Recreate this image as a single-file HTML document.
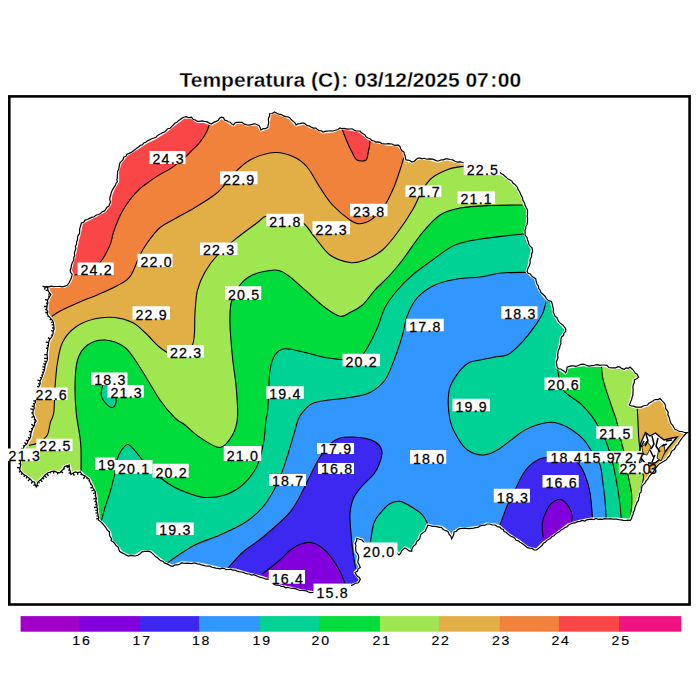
<!DOCTYPE html><html><head><meta charset="utf-8"><style>html,body{margin:0;padding:0;background:#fff;}svg{display:block}text{font-family:"Liberation Sans",sans-serif}</style></head><body>
<svg width="700" height="700" viewBox="0 0 700 700">
<rect width="700" height="700" fill="#fff"/>
<text x="179.5" y="87.2" font-weight="bold" font-size="21" letter-spacing="0" fill="#000" stroke="#fff" stroke-width="0.3" paint-order="fill" xml:space="preserve">Temperatura (C)<tspan dx="1">:</tspan><tspan dx="0.5"> 03/12/2025 07</tspan><tspan dx="1.5">:</tspan><tspan dx="0.5">00</tspan></text>
<defs><clipPath id="st"><path d="M20.4,461.9 L23.6,447.7 L27.5,443.0 L30.7,436.7 L33.0,427.3 L36.2,421.0 L33.0,414.7 L33.0,410.8 L35.4,399.7 L39.3,385.6 L40.9,379.3 L44.0,371.4 L47.2,360.4 L47.2,352.6 L47.7,350.0 L49.0,341.0 L51.6,337.1 L54.1,329.4 L53.5,323.0 L50.3,317.8 L47.1,314.0 L47.1,305.0 L48.4,298.6 L50.9,294.7 L49.0,292.1 L47.7,287.6 L42.6,286.4 L64.4,286.4 L68.9,283.1 L70.8,279.3 L72.1,274.1 L70.2,270.3 L71.5,265.1 L73.8,257.5 L77.5,240.0 L79.7,231.5 L81.4,222.9 L87.4,219.5 L96.0,215.2 L104.6,210.9 L109.7,204.0 L110.6,195.5 L113.2,188.6 L117.5,181.7 L117.5,171.5 L120.0,162.9 L126.9,154.3 L135.5,149.2 L145.8,142.3 L156.0,137.2 L164.6,132.0 L173.2,125.1 L176.9,122.3 L183.7,117.2 L191.4,117.2 L197.4,121.4 L204.3,121.4 L211.2,124.0 L216.3,121.4 L221.5,117.2 L226.6,120.6 L233.5,124.9 L236.9,122.3 L242.0,122.3 L247.2,124.9 L255.8,124.0 L259.2,125.7 L260.9,130.0 L267.8,127.4 L269.5,113.7 L274.6,112.0 L281.5,114.6 L290.0,118.0 L296.0,125.0 L304.0,123.0 L311.0,127.0 L316.0,128.0 L323.0,132.0 L333.0,131.0 L340.0,128.0 L350.0,129.0 L360.0,131.0 L368.0,138.0 L374.0,141.0 L386.0,144.0 L398.0,145.0 L404.0,152.0 L406.0,160.0 L412.0,162.0 L418.0,158.0 L430.0,158.8 L437.5,161.2 L447.5,158.8 L455.0,161.2 L462.5,162.5 L480.0,165.0 L500.0,172.5 L510.0,180.0 L517.5,187.5 L522.5,197.5 L525.0,205.0 L527.5,210.0 L527.5,222.5 L525.0,232.5 L527.5,240.0 L532.5,250.0 L530.0,260.0 L529.3,265.7 L527.1,271.4 L531.4,275.7 L535.7,278.6 L537.1,284.3 L540.0,290.0 L542.9,294.3 L546.4,298.6 L551.4,301.4 L552.9,307.1 L554.3,314.3 L558.6,321.4 L565.7,328.6 L565.7,331.4 L561.4,337.1 L560.0,345.7 L557.9,352.9 L557.1,360.0 L557.1,367.1 L565.7,372.9 L567.1,367.1 L584.3,364.3 L587.1,365.7 L604.3,365.0 L611.4,367.9 L620.0,367.1 L624.3,369.3 L630.0,367.1 L637.1,374.3 L638.6,377.1 L634.3,380.0 L632.9,387.1 L632.1,397.1 L629.3,405.0 L635.7,407.1 L641.4,407.1 L647.5,405.0 L652.9,401.0 L660.0,398.6 L663.9,402.6 L667.0,410.4 L670.2,421.4 L674.9,429.3 L684.3,432.5 L687.5,432.5 L681.4,438.9 L676.3,445.7 L671.1,452.6 L667.7,457.7 L664.3,461.1 L660.9,462.9 L655.0,469.0 L649.7,475.7 L643.5,484.3 L637.1,502.0 L630.3,520.3 L616.6,519.1 L600.6,519.1 L591.4,519.1 L580.0,521.4 L568.6,524.9 L559.4,531.7 L550.3,538.6 L543.4,543.1 L536.6,550.0 L527.4,547.7 L518.3,540.9 L509.1,535.1 L500.0,527.1 L495.0,525.0 L487.1,524.0 L478.0,527.4 L468.9,528.6 L459.7,528.6 L454.0,532.0 L451.7,538.9 L448.3,532.0 L441.4,527.4 L432.3,526.3 L427.7,525.1 L425.4,530.9 L420.9,534.3 L418.6,540.0 L414.0,545.7 L411.7,551.4 L404.9,548.0 L399.1,554.9 L395.7,551.4 L375.0,550.0 L365.0,545.0 L362.0,540.0 L356.8,538.3 L355.1,543.4 L356.0,552.0 L358.5,555.4 L357.7,562.2 L360.3,567.4 L355.1,572.5 L360.3,579.4 L358.5,582.8 L351.7,585.4 L330.0,590.0 L312.5,592.5 L300.0,590.5 L290.0,588.0 L275.0,585.0 L270.0,580.0 L257.5,576.2 L247.5,573.8 L235.0,570.0 L220.0,568.8 L210.0,566.2 L197.5,563.8 L181.5,562.9 L172.9,566.3 L164.3,562.9 L157.5,557.8 L150.6,551.8 L142.0,551.8 L135.2,556.0 L128.3,556.0 L121.5,552.6 L116.3,545.8 L111.2,540.6 L109.5,532.0 L106.0,527.8 L102.6,523.5 L98.3,520.0 L97.4,511.5 L96.6,502.9 L95.7,494.3 L92.3,485.7 L88.9,478.9 L83.7,475.4 L80.3,472.0 L75.1,472.0 L70.8,474.5 L69.2,465.0 L64.5,466.6 L59.7,472.9 L51.9,471.3 L45.6,474.5 L39.3,480.8 L36.2,487.0 L34.6,482.3 L28.3,477.6 L23.6,474.5 L19.7,469.7 Z"/></clipPath></defs>
<g clip-path="url(#st)">
<rect x="0" y="0" width="700" height="700" fill="rgb(50,150,255)"/>
<path d="M227.5,568.8 C230.0,566.0 236.7,557.7 242.5,552.5 C248.3,547.3 255.0,543.8 262.5,537.5 C270.0,531.2 281.6,521.2 287.5,515.0 C293.4,508.8 294.6,505.8 298.0,500.0 C301.4,494.2 305.0,486.0 308.0,480.0 C311.0,474.0 313.7,468.3 316.0,464.0 C318.3,459.7 319.7,457.3 322.0,454.0 C324.3,450.7 327.0,446.7 330.0,444.0 C333.0,441.3 336.3,439.2 340.0,438.0 C343.7,436.8 347.3,436.8 352.0,437.0 C356.7,437.2 363.7,437.8 368.0,439.0 C372.3,440.2 375.7,441.8 378.0,444.0 C380.3,446.2 381.7,449.0 382.0,452.0 C382.3,455.0 381.3,458.3 380.0,462.0 C378.7,465.7 376.2,470.8 374.0,474.0 C371.8,477.2 369.6,478.3 367.0,481.0 C364.4,483.7 360.9,487.0 358.5,490.3 C356.1,493.6 353.9,496.6 352.5,500.6 C351.1,504.6 350.3,509.2 350.0,514.3 C349.7,519.4 350.4,525.7 350.8,531.4 C351.2,537.1 351.8,542.8 352.5,548.5 C353.2,554.2 354.2,561.3 355.1,565.7 C356.0,570.1 357.5,573.5 358.0,575.0 L365.0,610.0 L215.0,610.0 Z" fill="rgb(60,40,240)"/>
<path d="M262.5,573.8 C265.4,571.5 275.4,563.9 280.0,560.0 C284.6,556.1 286.6,552.9 290.0,550.3 C293.4,547.7 296.9,545.6 300.3,544.3 C303.7,543.0 307.2,542.1 310.6,542.5 C314.0,542.9 317.4,544.4 320.8,546.8 C324.2,549.2 328.0,553.1 331.1,557.1 C334.2,561.1 337.4,566.5 339.7,570.8 C342.0,575.1 343.6,579.6 344.8,582.8 C346.0,586.0 346.6,588.8 347.0,590.0 L348.0,610.0 L255.0,610.0 Z" fill="rgb(130,0,220)"/>
<path d="M500.0,525.0 C501.2,521.7 505.0,510.8 507.5,505.0 C510.0,499.2 512.1,495.7 515.0,490.0 C517.9,484.3 521.2,476.0 525.0,471.0 C528.8,466.0 533.3,462.3 537.5,460.0 C541.7,457.7 545.4,457.5 550.0,457.0 C554.6,456.5 560.4,456.1 565.0,457.0 C569.6,457.9 574.2,459.5 577.5,462.5 C580.8,465.5 582.9,470.0 585.0,475.0 C587.1,480.0 588.8,485.4 590.0,492.5 C591.2,499.6 592.1,513.3 592.5,517.5 L595.0,570.0 L495.0,570.0 Z" fill="rgb(60,40,240)"/>
<path d="M543.0,537.0 C542.9,534.6 541.8,526.8 542.3,522.6 C542.8,518.4 544.7,514.9 546.0,512.0 C547.3,509.1 548.5,506.9 550.0,505.0 C551.5,503.1 552.9,501.8 554.9,500.9 C556.9,500.0 559.4,498.8 561.7,499.7 C564.0,500.6 566.9,503.9 568.6,506.6 C570.3,509.3 571.6,512.7 572.0,515.7 C572.4,518.8 571.1,523.4 570.9,524.9 L572.0,560.0 L540.0,560.0 Z" fill="rgb(130,0,220)"/>
<path d="M529.0,272.3 C524.4,272.4 509.6,272.2 501.4,273.0 C493.2,273.8 487.3,276.0 480.0,277.0 C472.7,278.0 465.0,277.7 457.5,279.0 C450.0,280.3 441.7,281.9 435.0,285.0 C428.3,288.1 422.1,292.5 417.5,297.5 C412.9,302.5 410.0,308.8 407.5,315.0 C405.0,321.2 404.6,327.9 402.5,335.0 C400.4,342.1 397.9,350.0 395.0,357.5 C392.1,365.0 389.2,374.2 385.0,380.0 C380.8,385.8 375.8,389.6 370.0,392.5 C364.2,395.4 359.2,395.8 350.0,397.5 C340.8,399.2 322.9,400.0 315.0,402.5 C307.1,405.0 305.3,409.6 302.5,412.5 C299.7,415.4 299.4,416.4 298.0,420.0 C296.6,423.6 295.7,428.3 294.0,434.0 C292.3,439.7 290.0,447.7 288.0,454.0 C286.0,460.3 284.3,466.0 282.0,472.0 C279.7,478.0 277.2,484.1 274.0,490.0 C270.8,495.9 267.3,502.1 262.5,507.5 C257.7,512.9 252.1,517.9 245.0,522.5 C237.9,527.1 228.3,531.2 220.0,535.0 C211.7,538.8 202.5,541.2 195.0,545.0 C187.5,548.8 180.0,554.2 175.0,557.5 C170.0,560.8 166.7,563.8 165.0,565.0 L150.0,600.0 L0.0,600.0 L0.0,0.0 L545.0,0.0 L545.0,262.0 Z" fill="rgb(0,210,150)"/>
<path d="M546.0,302.0 C545.5,303.8 544.4,309.4 542.9,312.9 C541.4,316.4 539.5,319.3 537.1,322.9 C534.7,326.5 531.2,331.0 528.6,334.3 C526.0,337.6 524.7,339.6 521.4,342.9 C518.1,346.2 513.1,351.9 508.6,354.3 C504.1,356.7 499.1,356.2 494.3,357.1 C489.5,358.1 484.5,358.9 480.0,360.0 C475.5,361.1 471.7,360.6 467.5,363.5 C463.3,366.4 458.1,372.7 455.0,377.5 C451.9,382.3 449.6,385.4 448.8,392.5 C447.9,399.6 448.5,412.5 450.0,420.0 C451.5,427.5 454.6,432.5 457.5,437.5 C460.4,442.5 463.3,447.1 467.5,450.0 C471.7,452.9 477.5,455.0 482.5,455.0 C487.5,455.0 490.4,454.2 497.5,450.0 C504.6,445.8 516.7,434.6 525.0,430.0 C533.3,425.4 541.7,423.5 547.5,422.5 C553.3,421.5 555.9,422.8 560.0,424.0 C564.1,425.2 568.0,427.3 572.0,430.0 C576.0,432.7 580.7,436.3 584.0,440.0 C587.3,443.7 589.3,447.8 592.0,452.0 C594.7,456.2 598.2,460.3 600.0,465.0 C601.8,469.7 601.7,474.2 602.5,480.0 C603.3,485.8 604.4,493.5 605.0,500.0 C605.6,506.5 606.0,515.6 606.2,518.8 L610.0,560.0 L700.0,560.0 L700.0,290.0 L550.0,290.0 Z" fill="rgb(0,210,150)"/>
<path d="M370.5,541.7 C371.1,538.6 372.3,527.6 374.0,522.8 C375.7,517.9 378.2,515.7 380.8,512.6 C383.4,509.5 386.2,505.9 389.4,504.0 C392.6,502.1 396.1,500.8 400.0,501.4 C403.9,502.0 408.8,505.2 412.5,507.5 C416.2,509.8 420.0,512.3 422.5,515.0 C425.0,517.7 426.7,522.3 427.5,523.8 L432.0,560.0 L368.0,560.0 Z" fill="rgb(0,210,150)"/>
<path d="M525.0,233.8 C517.9,234.6 494.2,236.9 482.5,238.8 C470.8,240.6 463.3,241.5 455.0,245.0 C446.7,248.5 439.6,255.0 432.5,260.0 C425.4,265.0 418.3,270.0 412.5,275.0 C406.7,280.0 402.1,284.6 397.5,290.0 C392.9,295.4 388.3,301.2 385.0,307.5 C381.7,313.8 380.4,320.8 377.5,327.5 C374.6,334.2 370.4,342.5 367.5,347.5 C364.6,352.5 362.9,355.4 360.0,357.5 C357.1,359.6 355.8,360.0 350.0,360.0 C344.2,360.0 332.5,358.8 325.0,357.5 C317.5,356.2 311.7,354.0 305.0,352.5 C298.3,351.0 290.0,348.3 285.0,348.8 C280.0,349.2 277.5,351.5 275.0,355.0 C272.5,358.5 271.0,364.2 270.0,370.0 C269.0,375.8 269.2,382.9 268.8,390.0 C268.3,397.1 268.0,407.5 267.5,412.5 C267.0,417.5 266.6,415.4 266.0,420.0 C265.4,424.6 265.0,433.7 264.0,440.0 C263.0,446.3 261.5,453.0 260.0,458.0 C258.5,463.0 257.9,465.5 255.0,470.0 C252.1,474.5 247.5,480.8 242.5,485.0 C237.5,489.2 231.2,492.9 225.0,495.0 C218.8,497.1 210.8,497.7 205.0,497.5 C199.2,497.3 195.0,495.4 190.0,493.8 C185.0,492.1 180.0,490.2 175.0,487.5 C170.0,484.8 164.2,480.8 160.0,477.5 C155.8,474.2 152.9,470.9 150.0,468.0 C147.1,465.1 144.8,462.7 142.5,460.0 C140.2,457.3 138.4,454.6 136.0,452.0 C133.6,449.4 130.5,444.7 128.0,444.5 C125.5,444.3 122.8,448.4 121.0,451.0 C119.2,453.6 118.0,456.4 117.0,460.0 C116.0,463.6 116.2,467.1 115.0,472.5 C113.8,477.9 111.7,486.7 110.0,492.5 C108.3,498.3 106.5,502.7 105.0,507.5 C103.5,512.3 101.9,519.0 101.2,521.2 L90.0,540.0 L0.0,540.0 L0.0,0.0 L545.0,0.0 L545.0,230.0 Z" fill="rgb(0,220,60)"/>
<path d="M103.8,383.8 C105.4,382.3 109.2,383.5 111.2,386.2 C113.3,389.0 116.0,396.5 116.2,400.0 C116.5,403.5 114.4,407.1 112.5,407.5 C110.6,407.9 106.9,404.6 105.0,402.5 C103.1,400.4 101.5,398.1 101.2,395.0 C101.0,391.9 102.1,385.2 103.8,383.8 Z" fill="rgb(0,210,150)"/>
<path d="M557.1,367.1 C557.6,369.6 558.9,378.0 560.0,382.0 C561.1,386.0 562.1,388.5 564.0,391.0 C565.9,393.5 568.5,394.9 571.4,397.1 C574.3,399.3 578.1,401.2 581.4,404.3 C584.7,407.4 588.3,411.6 591.4,415.7 C594.5,419.8 597.5,424.9 599.8,428.8 C602.1,432.7 603.5,435.7 605.0,439.1 C606.5,442.5 607.5,445.2 608.8,449.4 C610.1,453.5 611.5,457.6 613.0,464.0 C614.5,470.4 616.3,480.7 617.5,487.5 C618.7,494.3 619.4,499.8 620.0,505.0 C620.6,510.2 621.0,516.5 621.2,518.8 L625.0,560.0 L700.0,560.0 L700.0,360.0 L557.0,360.0 Z" fill="rgb(0,220,60)"/>
<path d="M522.5,205.0 C517.1,205.1 500.4,205.0 490.0,205.5 C479.6,206.0 468.3,206.4 460.0,208.0 C451.7,209.6 446.2,210.9 440.0,215.0 C433.8,219.1 428.8,225.0 422.5,232.5 C416.2,240.0 407.9,252.9 402.5,260.0 C397.1,267.1 394.6,270.0 390.0,275.0 C385.4,280.0 379.6,285.0 375.0,290.0 C370.4,295.0 366.7,301.2 362.5,305.0 C358.3,308.8 353.8,310.6 350.0,312.5 C346.2,314.4 344.2,317.1 340.0,316.2 C335.8,315.4 330.8,311.9 325.0,307.5 C319.2,303.1 311.2,295.4 305.0,290.0 C298.8,284.6 292.5,278.3 287.5,275.0 C282.5,271.7 280.8,270.0 275.0,270.0 C269.2,270.0 258.3,272.5 252.5,275.0 C246.7,277.5 243.5,280.4 240.0,285.0 C236.5,289.6 232.9,295.8 231.2,302.5 C229.6,309.2 229.8,315.8 230.0,325.0 C230.2,334.2 231.5,347.1 232.5,357.5 C233.5,367.9 235.4,377.5 236.2,387.5 C237.1,397.5 238.1,409.6 237.5,417.5 C236.9,425.4 235.4,430.0 232.5,435.0 C229.6,440.0 225.4,447.1 220.0,447.5 C214.6,447.9 205.8,441.2 200.0,437.5 C194.2,433.8 189.2,428.2 185.0,425.0 C180.8,421.8 179.2,422.2 175.0,418.0 C170.8,413.8 165.8,408.4 160.0,400.0 C154.2,391.6 145.8,376.2 140.0,367.5 C134.2,358.8 130.8,352.1 125.0,347.5 C119.2,342.9 111.2,340.4 105.0,340.0 C98.8,339.6 92.1,341.7 87.5,345.0 C82.9,348.3 79.6,353.3 77.5,360.0 C75.4,366.7 75.2,376.2 75.0,385.0 C74.8,393.8 75.4,403.8 76.2,412.5 C77.1,421.2 79.2,431.4 80.0,437.5 C80.8,443.6 80.8,443.7 81.0,449.3 C81.2,454.9 81.0,467.6 81.0,471.3 L80.0,490.0 L0.0,490.0 L0.0,0.0 L545.0,0.0 L545.0,200.0 Z" fill="rgb(160,230,80)"/>
<path d="M601.4,365.0 C601.6,367.3 601.9,374.0 602.9,378.6 C603.9,383.2 605.4,387.7 607.1,392.9 C608.8,398.1 611.3,405.2 612.9,410.0 C614.5,414.8 615.3,416.1 616.7,421.4 C618.1,426.7 619.8,435.3 621.4,441.9 C623.0,448.5 625.1,455.4 626.2,460.8 C627.3,466.2 627.1,469.2 628.0,474.6 C628.9,480.0 630.9,487.5 631.5,492.9 C632.1,498.3 631.7,502.4 631.5,507.0 C631.3,511.6 630.7,518.2 630.5,520.5 L635.0,540.0 L700.0,540.0 L700.0,360.0 L600.0,360.0 Z" fill="rgb(160,230,80)"/>
<path d="M463.8,166.2 C461.5,166.7 455.2,166.9 450.0,168.8 C444.8,170.6 437.1,174.0 432.5,177.5 C427.9,181.0 425.8,184.6 422.5,190.0 C419.2,195.4 416.7,202.9 412.5,210.0 C408.3,217.1 402.5,225.8 397.5,232.5 C392.5,239.2 387.9,245.4 382.5,250.0 C377.1,254.6 370.4,257.9 365.0,260.0 C359.6,262.1 355.8,263.3 350.0,262.5 C344.2,261.7 335.8,259.2 330.0,255.0 C324.2,250.8 319.6,242.9 315.0,237.5 C310.4,232.1 307.5,225.9 302.5,222.5 C297.5,219.1 291.0,218.0 285.0,217.0 C279.0,216.0 270.8,215.3 266.2,216.2 C261.7,217.2 262.3,219.0 257.5,222.5 C252.7,226.0 244.2,232.1 237.5,237.5 C230.8,242.9 222.9,249.2 217.5,255.0 C212.1,260.8 208.3,266.2 205.0,272.0 C201.7,277.8 199.2,283.2 197.5,290.0 C195.8,296.8 195.8,303.3 195.0,312.5 C194.2,321.7 195.8,337.9 192.5,345.0 C189.2,352.1 180.4,354.6 175.0,355.0 C169.6,355.4 165.0,351.2 160.0,347.5 C155.0,343.8 149.6,336.7 145.0,332.5 C140.4,328.3 137.5,325.0 132.5,322.5 C127.5,320.0 121.2,318.1 115.0,317.5 C108.8,316.9 101.7,317.1 95.0,318.8 C88.3,320.4 80.4,323.5 75.0,327.5 C69.6,331.5 65.4,336.7 62.5,342.5 C59.6,348.3 58.8,355.0 57.5,362.5 C56.2,370.0 55.6,379.2 55.0,387.5 C54.4,395.8 54.5,406.6 53.8,412.5 C53.0,418.4 51.4,418.8 50.3,422.6 C49.2,426.4 49.3,431.8 47.2,435.2 C45.1,438.6 40.7,441.3 37.7,443.0 C34.7,444.7 30.5,445.0 29.1,445.4 L20.0,450.0 L0.0,450.0 L0.0,0.0 L475.0,0.0 L475.0,150.0 Z" fill="rgb(225,175,70)"/>
<path d="M637.2,407.3 C637.3,409.6 637.8,416.4 638.0,421.4 C638.2,426.4 638.3,431.9 638.7,437.2 C639.1,442.4 639.8,447.7 640.3,452.9 C640.8,458.1 641.4,464.4 641.9,468.6 C642.4,472.8 643.8,474.4 643.5,478.0 C643.2,481.6 640.8,488.0 640.3,490.0 L650.0,500.0 L700.0,500.0 L700.0,400.0 L637.0,400.0 Z" fill="rgb(225,175,70)"/>
<path d="M403.8,157.5 C403.1,159.6 401.7,165.0 400.0,170.0 C398.3,175.0 396.2,181.7 393.8,187.5 C391.2,193.3 388.5,199.8 385.0,205.0 C381.5,210.2 376.7,215.6 372.5,218.8 C368.3,221.9 363.8,223.5 360.0,223.8 C356.2,224.0 354.6,223.1 350.0,220.0 C345.4,216.9 337.5,210.4 332.5,205.0 C327.5,199.6 324.2,193.8 320.0,187.5 C315.8,181.2 311.7,172.5 307.5,167.5 C303.3,162.5 300.4,160.0 295.0,157.5 C289.6,155.0 282.5,152.1 275.0,152.5 C267.5,152.9 257.1,156.2 250.0,160.0 C242.9,163.8 237.9,169.6 232.5,175.0 C227.1,180.4 223.8,187.1 217.5,192.5 C211.2,197.9 202.1,203.1 195.0,207.5 C187.9,211.9 180.8,215.4 175.0,218.8 C169.2,222.1 164.6,223.5 160.0,227.5 C155.4,231.5 150.8,237.9 147.5,242.5 C144.2,247.1 142.9,249.3 140.0,255.0 C137.1,260.7 133.8,271.6 130.0,276.7 C126.2,281.8 122.5,282.7 117.1,285.7 C111.7,288.7 104.2,291.9 97.8,294.7 C91.4,297.5 85.0,299.6 78.6,302.4 C72.2,305.2 63.8,309.0 59.3,311.4 C54.8,313.8 52.9,315.7 51.6,316.6 L30.0,318.0 L0.0,315.0 L0.0,0.0 L410.0,0.0 L410.0,140.0 Z" fill="rgb(240,130,60)"/>
<path d="M209.7,123.4 C209.1,124.9 208.0,129.3 206.3,132.6 C204.6,135.8 201.9,139.8 199.4,142.9 C196.9,146.0 193.7,148.6 191.4,150.9 C189.1,153.2 188.0,154.5 185.7,156.6 C183.4,158.7 180.4,161.3 177.7,163.4 C175.0,165.5 172.8,167.2 169.7,169.1 C166.6,171.0 162.8,172.8 159.4,174.9 C156.0,177.0 152.3,179.4 149.1,181.7 C145.9,184.0 142.8,186.0 140.0,188.6 C137.2,191.2 134.8,193.8 132.0,197.2 C129.2,200.6 125.8,205.5 123.5,209.2 C121.2,212.9 120.0,215.5 118.3,219.5 C116.6,223.5 114.6,228.9 113.2,233.2 C111.8,237.4 112.2,240.1 110.0,245.0 C107.8,249.9 104.2,258.0 100.0,262.5 C95.8,267.0 89.2,269.9 85.0,272.0 C80.8,274.1 76.7,274.5 75.0,275.0 L60.0,280.0 L0.0,280.0 L0.0,0.0 L212.0,0.0 L212.0,110.0 Z" fill="rgb(250,70,70)"/>
<path d="M342.0,129.0 C343.0,131.5 346.3,140.2 348.0,144.0 C349.7,147.8 350.5,149.3 352.0,152.0 C353.5,154.7 354.7,158.7 357.0,160.0 C359.3,161.3 364.1,161.5 366.0,160.0 C367.9,158.5 367.8,154.0 368.5,151.0 C369.2,148.0 370.1,144.3 370.0,142.0 C369.9,139.7 368.3,137.8 368.0,137.0 L372.0,110.0 L340.0,110.0 Z" fill="rgb(250,70,70)"/>
<path d="M227.5,568.8 C230.0,566.0 236.7,557.7 242.5,552.5 C248.3,547.3 255.0,543.8 262.5,537.5 C270.0,531.2 281.6,521.2 287.5,515.0 C293.4,508.8 294.6,505.8 298.0,500.0 C301.4,494.2 305.0,486.0 308.0,480.0 C311.0,474.0 313.7,468.3 316.0,464.0 C318.3,459.7 319.7,457.3 322.0,454.0 C324.3,450.7 327.0,446.7 330.0,444.0 C333.0,441.3 336.3,439.2 340.0,438.0 C343.7,436.8 347.3,436.8 352.0,437.0 C356.7,437.2 363.7,437.8 368.0,439.0 C372.3,440.2 375.7,441.8 378.0,444.0 C380.3,446.2 381.7,449.0 382.0,452.0 C382.3,455.0 381.3,458.3 380.0,462.0 C378.7,465.7 376.2,470.8 374.0,474.0 C371.8,477.2 369.6,478.3 367.0,481.0 C364.4,483.7 360.9,487.0 358.5,490.3 C356.1,493.6 353.9,496.6 352.5,500.6 C351.1,504.6 350.3,509.2 350.0,514.3 C349.7,519.4 350.4,525.7 350.8,531.4 C351.2,537.1 351.8,542.8 352.5,548.5 C353.2,554.2 354.2,561.3 355.1,565.7 C356.0,570.1 357.5,573.5 358.0,575.0" fill="none" stroke="#000" stroke-width="1.1"/>
<path d="M262.5,573.8 C265.4,571.5 275.4,563.9 280.0,560.0 C284.6,556.1 286.6,552.9 290.0,550.3 C293.4,547.7 296.9,545.6 300.3,544.3 C303.7,543.0 307.2,542.1 310.6,542.5 C314.0,542.9 317.4,544.4 320.8,546.8 C324.2,549.2 328.0,553.1 331.1,557.1 C334.2,561.1 337.4,566.5 339.7,570.8 C342.0,575.1 343.6,579.6 344.8,582.8 C346.0,586.0 346.6,588.8 347.0,590.0" fill="none" stroke="#000" stroke-width="1.1"/>
<path d="M500.0,525.0 C501.2,521.7 505.0,510.8 507.5,505.0 C510.0,499.2 512.1,495.7 515.0,490.0 C517.9,484.3 521.2,476.0 525.0,471.0 C528.8,466.0 533.3,462.3 537.5,460.0 C541.7,457.7 545.4,457.5 550.0,457.0 C554.6,456.5 560.4,456.1 565.0,457.0 C569.6,457.9 574.2,459.5 577.5,462.5 C580.8,465.5 582.9,470.0 585.0,475.0 C587.1,480.0 588.8,485.4 590.0,492.5 C591.2,499.6 592.1,513.3 592.5,517.5" fill="none" stroke="#000" stroke-width="1.1"/>
<path d="M543.0,537.0 C542.9,534.6 541.8,526.8 542.3,522.6 C542.8,518.4 544.7,514.9 546.0,512.0 C547.3,509.1 548.5,506.9 550.0,505.0 C551.5,503.1 552.9,501.8 554.9,500.9 C556.9,500.0 559.4,498.8 561.7,499.7 C564.0,500.6 566.9,503.9 568.6,506.6 C570.3,509.3 571.6,512.7 572.0,515.7 C572.4,518.8 571.1,523.4 570.9,524.9" fill="none" stroke="#000" stroke-width="1.1"/>
<path d="M529.0,272.3 C524.4,272.4 509.6,272.2 501.4,273.0 C493.2,273.8 487.3,276.0 480.0,277.0 C472.7,278.0 465.0,277.7 457.5,279.0 C450.0,280.3 441.7,281.9 435.0,285.0 C428.3,288.1 422.1,292.5 417.5,297.5 C412.9,302.5 410.0,308.8 407.5,315.0 C405.0,321.2 404.6,327.9 402.5,335.0 C400.4,342.1 397.9,350.0 395.0,357.5 C392.1,365.0 389.2,374.2 385.0,380.0 C380.8,385.8 375.8,389.6 370.0,392.5 C364.2,395.4 359.2,395.8 350.0,397.5 C340.8,399.2 322.9,400.0 315.0,402.5 C307.1,405.0 305.3,409.6 302.5,412.5 C299.7,415.4 299.4,416.4 298.0,420.0 C296.6,423.6 295.7,428.3 294.0,434.0 C292.3,439.7 290.0,447.7 288.0,454.0 C286.0,460.3 284.3,466.0 282.0,472.0 C279.7,478.0 277.2,484.1 274.0,490.0 C270.8,495.9 267.3,502.1 262.5,507.5 C257.7,512.9 252.1,517.9 245.0,522.5 C237.9,527.1 228.3,531.2 220.0,535.0 C211.7,538.8 202.5,541.2 195.0,545.0 C187.5,548.8 180.0,554.2 175.0,557.5 C170.0,560.8 166.7,563.8 165.0,565.0" fill="none" stroke="#000" stroke-width="1.1"/>
<path d="M546.0,302.0 C545.5,303.8 544.4,309.4 542.9,312.9 C541.4,316.4 539.5,319.3 537.1,322.9 C534.7,326.5 531.2,331.0 528.6,334.3 C526.0,337.6 524.7,339.6 521.4,342.9 C518.1,346.2 513.1,351.9 508.6,354.3 C504.1,356.7 499.1,356.2 494.3,357.1 C489.5,358.1 484.5,358.9 480.0,360.0 C475.5,361.1 471.7,360.6 467.5,363.5 C463.3,366.4 458.1,372.7 455.0,377.5 C451.9,382.3 449.6,385.4 448.8,392.5 C447.9,399.6 448.5,412.5 450.0,420.0 C451.5,427.5 454.6,432.5 457.5,437.5 C460.4,442.5 463.3,447.1 467.5,450.0 C471.7,452.9 477.5,455.0 482.5,455.0 C487.5,455.0 490.4,454.2 497.5,450.0 C504.6,445.8 516.7,434.6 525.0,430.0 C533.3,425.4 541.7,423.5 547.5,422.5 C553.3,421.5 555.9,422.8 560.0,424.0 C564.1,425.2 568.0,427.3 572.0,430.0 C576.0,432.7 580.7,436.3 584.0,440.0 C587.3,443.7 589.3,447.8 592.0,452.0 C594.7,456.2 598.2,460.3 600.0,465.0 C601.8,469.7 601.7,474.2 602.5,480.0 C603.3,485.8 604.4,493.5 605.0,500.0 C605.6,506.5 606.0,515.6 606.2,518.8" fill="none" stroke="#000" stroke-width="1.1"/>
<path d="M370.5,541.7 C371.1,538.6 372.3,527.6 374.0,522.8 C375.7,517.9 378.2,515.7 380.8,512.6 C383.4,509.5 386.2,505.9 389.4,504.0 C392.6,502.1 396.1,500.8 400.0,501.4 C403.9,502.0 408.8,505.2 412.5,507.5 C416.2,509.8 420.0,512.3 422.5,515.0 C425.0,517.7 426.7,522.3 427.5,523.8" fill="none" stroke="#000" stroke-width="1.1"/>
<path d="M525.0,233.8 C517.9,234.6 494.2,236.9 482.5,238.8 C470.8,240.6 463.3,241.5 455.0,245.0 C446.7,248.5 439.6,255.0 432.5,260.0 C425.4,265.0 418.3,270.0 412.5,275.0 C406.7,280.0 402.1,284.6 397.5,290.0 C392.9,295.4 388.3,301.2 385.0,307.5 C381.7,313.8 380.4,320.8 377.5,327.5 C374.6,334.2 370.4,342.5 367.5,347.5 C364.6,352.5 362.9,355.4 360.0,357.5 C357.1,359.6 355.8,360.0 350.0,360.0 C344.2,360.0 332.5,358.8 325.0,357.5 C317.5,356.2 311.7,354.0 305.0,352.5 C298.3,351.0 290.0,348.3 285.0,348.8 C280.0,349.2 277.5,351.5 275.0,355.0 C272.5,358.5 271.0,364.2 270.0,370.0 C269.0,375.8 269.2,382.9 268.8,390.0 C268.3,397.1 268.0,407.5 267.5,412.5 C267.0,417.5 266.6,415.4 266.0,420.0 C265.4,424.6 265.0,433.7 264.0,440.0 C263.0,446.3 261.5,453.0 260.0,458.0 C258.5,463.0 257.9,465.5 255.0,470.0 C252.1,474.5 247.5,480.8 242.5,485.0 C237.5,489.2 231.2,492.9 225.0,495.0 C218.8,497.1 210.8,497.7 205.0,497.5 C199.2,497.3 195.0,495.4 190.0,493.8 C185.0,492.1 180.0,490.2 175.0,487.5 C170.0,484.8 164.2,480.8 160.0,477.5 C155.8,474.2 152.9,470.9 150.0,468.0 C147.1,465.1 144.8,462.7 142.5,460.0 C140.2,457.3 138.4,454.6 136.0,452.0 C133.6,449.4 130.5,444.7 128.0,444.5 C125.5,444.3 122.8,448.4 121.0,451.0 C119.2,453.6 118.0,456.4 117.0,460.0 C116.0,463.6 116.2,467.1 115.0,472.5 C113.8,477.9 111.7,486.7 110.0,492.5 C108.3,498.3 106.5,502.7 105.0,507.5 C103.5,512.3 101.9,519.0 101.2,521.2" fill="none" stroke="#000" stroke-width="1.1"/>
<path d="M103.8,383.8 C105.4,382.3 109.2,383.5 111.2,386.2 C113.3,389.0 116.0,396.5 116.2,400.0 C116.5,403.5 114.4,407.1 112.5,407.5 C110.6,407.9 106.9,404.6 105.0,402.5 C103.1,400.4 101.5,398.1 101.2,395.0 C101.0,391.9 102.1,385.2 103.8,383.8 Z" fill="none" stroke="#000" stroke-width="1.1"/>
<path d="M557.1,367.1 C557.6,369.6 558.9,378.0 560.0,382.0 C561.1,386.0 562.1,388.5 564.0,391.0 C565.9,393.5 568.5,394.9 571.4,397.1 C574.3,399.3 578.1,401.2 581.4,404.3 C584.7,407.4 588.3,411.6 591.4,415.7 C594.5,419.8 597.5,424.9 599.8,428.8 C602.1,432.7 603.5,435.7 605.0,439.1 C606.5,442.5 607.5,445.2 608.8,449.4 C610.1,453.5 611.5,457.6 613.0,464.0 C614.5,470.4 616.3,480.7 617.5,487.5 C618.7,494.3 619.4,499.8 620.0,505.0 C620.6,510.2 621.0,516.5 621.2,518.8" fill="none" stroke="#000" stroke-width="1.1"/>
<path d="M522.5,205.0 C517.1,205.1 500.4,205.0 490.0,205.5 C479.6,206.0 468.3,206.4 460.0,208.0 C451.7,209.6 446.2,210.9 440.0,215.0 C433.8,219.1 428.8,225.0 422.5,232.5 C416.2,240.0 407.9,252.9 402.5,260.0 C397.1,267.1 394.6,270.0 390.0,275.0 C385.4,280.0 379.6,285.0 375.0,290.0 C370.4,295.0 366.7,301.2 362.5,305.0 C358.3,308.8 353.8,310.6 350.0,312.5 C346.2,314.4 344.2,317.1 340.0,316.2 C335.8,315.4 330.8,311.9 325.0,307.5 C319.2,303.1 311.2,295.4 305.0,290.0 C298.8,284.6 292.5,278.3 287.5,275.0 C282.5,271.7 280.8,270.0 275.0,270.0 C269.2,270.0 258.3,272.5 252.5,275.0 C246.7,277.5 243.5,280.4 240.0,285.0 C236.5,289.6 232.9,295.8 231.2,302.5 C229.6,309.2 229.8,315.8 230.0,325.0 C230.2,334.2 231.5,347.1 232.5,357.5 C233.5,367.9 235.4,377.5 236.2,387.5 C237.1,397.5 238.1,409.6 237.5,417.5 C236.9,425.4 235.4,430.0 232.5,435.0 C229.6,440.0 225.4,447.1 220.0,447.5 C214.6,447.9 205.8,441.2 200.0,437.5 C194.2,433.8 189.2,428.2 185.0,425.0 C180.8,421.8 179.2,422.2 175.0,418.0 C170.8,413.8 165.8,408.4 160.0,400.0 C154.2,391.6 145.8,376.2 140.0,367.5 C134.2,358.8 130.8,352.1 125.0,347.5 C119.2,342.9 111.2,340.4 105.0,340.0 C98.8,339.6 92.1,341.7 87.5,345.0 C82.9,348.3 79.6,353.3 77.5,360.0 C75.4,366.7 75.2,376.2 75.0,385.0 C74.8,393.8 75.4,403.8 76.2,412.5 C77.1,421.2 79.2,431.4 80.0,437.5 C80.8,443.6 80.8,443.7 81.0,449.3 C81.2,454.9 81.0,467.6 81.0,471.3" fill="none" stroke="#000" stroke-width="1.1"/>
<path d="M601.4,365.0 C601.6,367.3 601.9,374.0 602.9,378.6 C603.9,383.2 605.4,387.7 607.1,392.9 C608.8,398.1 611.3,405.2 612.9,410.0 C614.5,414.8 615.3,416.1 616.7,421.4 C618.1,426.7 619.8,435.3 621.4,441.9 C623.0,448.5 625.1,455.4 626.2,460.8 C627.3,466.2 627.1,469.2 628.0,474.6 C628.9,480.0 630.9,487.5 631.5,492.9 C632.1,498.3 631.7,502.4 631.5,507.0 C631.3,511.6 630.7,518.2 630.5,520.5" fill="none" stroke="#000" stroke-width="1.1"/>
<path d="M463.8,166.2 C461.5,166.7 455.2,166.9 450.0,168.8 C444.8,170.6 437.1,174.0 432.5,177.5 C427.9,181.0 425.8,184.6 422.5,190.0 C419.2,195.4 416.7,202.9 412.5,210.0 C408.3,217.1 402.5,225.8 397.5,232.5 C392.5,239.2 387.9,245.4 382.5,250.0 C377.1,254.6 370.4,257.9 365.0,260.0 C359.6,262.1 355.8,263.3 350.0,262.5 C344.2,261.7 335.8,259.2 330.0,255.0 C324.2,250.8 319.6,242.9 315.0,237.5 C310.4,232.1 307.5,225.9 302.5,222.5 C297.5,219.1 291.0,218.0 285.0,217.0 C279.0,216.0 270.8,215.3 266.2,216.2 C261.7,217.2 262.3,219.0 257.5,222.5 C252.7,226.0 244.2,232.1 237.5,237.5 C230.8,242.9 222.9,249.2 217.5,255.0 C212.1,260.8 208.3,266.2 205.0,272.0 C201.7,277.8 199.2,283.2 197.5,290.0 C195.8,296.8 195.8,303.3 195.0,312.5 C194.2,321.7 195.8,337.9 192.5,345.0 C189.2,352.1 180.4,354.6 175.0,355.0 C169.6,355.4 165.0,351.2 160.0,347.5 C155.0,343.8 149.6,336.7 145.0,332.5 C140.4,328.3 137.5,325.0 132.5,322.5 C127.5,320.0 121.2,318.1 115.0,317.5 C108.8,316.9 101.7,317.1 95.0,318.8 C88.3,320.4 80.4,323.5 75.0,327.5 C69.6,331.5 65.4,336.7 62.5,342.5 C59.6,348.3 58.8,355.0 57.5,362.5 C56.2,370.0 55.6,379.2 55.0,387.5 C54.4,395.8 54.5,406.6 53.8,412.5 C53.0,418.4 51.4,418.8 50.3,422.6 C49.2,426.4 49.3,431.8 47.2,435.2 C45.1,438.6 40.7,441.3 37.7,443.0 C34.7,444.7 30.5,445.0 29.1,445.4" fill="none" stroke="#000" stroke-width="1.1"/>
<path d="M637.2,407.3 C637.3,409.6 637.8,416.4 638.0,421.4 C638.2,426.4 638.3,431.9 638.7,437.2 C639.1,442.4 639.8,447.7 640.3,452.9 C640.8,458.1 641.4,464.4 641.9,468.6 C642.4,472.8 643.8,474.4 643.5,478.0 C643.2,481.6 640.8,488.0 640.3,490.0" fill="none" stroke="#000" stroke-width="1.1"/>
<path d="M403.8,157.5 C403.1,159.6 401.7,165.0 400.0,170.0 C398.3,175.0 396.2,181.7 393.8,187.5 C391.2,193.3 388.5,199.8 385.0,205.0 C381.5,210.2 376.7,215.6 372.5,218.8 C368.3,221.9 363.8,223.5 360.0,223.8 C356.2,224.0 354.6,223.1 350.0,220.0 C345.4,216.9 337.5,210.4 332.5,205.0 C327.5,199.6 324.2,193.8 320.0,187.5 C315.8,181.2 311.7,172.5 307.5,167.5 C303.3,162.5 300.4,160.0 295.0,157.5 C289.6,155.0 282.5,152.1 275.0,152.5 C267.5,152.9 257.1,156.2 250.0,160.0 C242.9,163.8 237.9,169.6 232.5,175.0 C227.1,180.4 223.8,187.1 217.5,192.5 C211.2,197.9 202.1,203.1 195.0,207.5 C187.9,211.9 180.8,215.4 175.0,218.8 C169.2,222.1 164.6,223.5 160.0,227.5 C155.4,231.5 150.8,237.9 147.5,242.5 C144.2,247.1 142.9,249.3 140.0,255.0 C137.1,260.7 133.8,271.6 130.0,276.7 C126.2,281.8 122.5,282.7 117.1,285.7 C111.7,288.7 104.2,291.9 97.8,294.7 C91.4,297.5 85.0,299.6 78.6,302.4 C72.2,305.2 63.8,309.0 59.3,311.4 C54.8,313.8 52.9,315.7 51.6,316.6" fill="none" stroke="#000" stroke-width="1.1"/>
<path d="M209.7,123.4 C209.1,124.9 208.0,129.3 206.3,132.6 C204.6,135.8 201.9,139.8 199.4,142.9 C196.9,146.0 193.7,148.6 191.4,150.9 C189.1,153.2 188.0,154.5 185.7,156.6 C183.4,158.7 180.4,161.3 177.7,163.4 C175.0,165.5 172.8,167.2 169.7,169.1 C166.6,171.0 162.8,172.8 159.4,174.9 C156.0,177.0 152.3,179.4 149.1,181.7 C145.9,184.0 142.8,186.0 140.0,188.6 C137.2,191.2 134.8,193.8 132.0,197.2 C129.2,200.6 125.8,205.5 123.5,209.2 C121.2,212.9 120.0,215.5 118.3,219.5 C116.6,223.5 114.6,228.9 113.2,233.2 C111.8,237.4 112.2,240.1 110.0,245.0 C107.8,249.9 104.2,258.0 100.0,262.5 C95.8,267.0 89.2,269.9 85.0,272.0 C80.8,274.1 76.7,274.5 75.0,275.0" fill="none" stroke="#000" stroke-width="1.1"/>
<path d="M342.0,129.0 C343.0,131.5 346.3,140.2 348.0,144.0 C349.7,147.8 350.5,149.3 352.0,152.0 C353.5,154.7 354.7,158.7 357.0,160.0 C359.3,161.3 364.1,161.5 366.0,160.0 C367.9,158.5 367.8,154.0 368.5,151.0 C369.2,148.0 370.1,144.3 370.0,142.0 C369.9,139.7 368.3,137.8 368.0,137.0" fill="none" stroke="#000" stroke-width="1.1"/>
</g>
<path d="M20.4,461.9 L23.6,447.7 L27.5,443.0 L30.7,436.7 L33.0,427.3 L36.2,421.0 L33.0,414.7 L33.0,410.8 L35.4,399.7 L39.3,385.6 L40.9,379.3 L44.0,371.4 L47.2,360.4 L47.2,352.6 L47.7,350.0 L49.0,341.0 L51.6,337.1 L54.1,329.4 L53.5,323.0 L50.3,317.8 L47.1,314.0 L47.1,305.0 L48.4,298.6 L50.9,294.7 L49.0,292.1 L47.7,287.6 L42.6,286.4 L64.4,286.4 L68.9,283.1 L70.8,279.3 L72.1,274.1 L70.2,270.3 L71.5,265.1 L73.8,257.5 L77.5,240.0 L79.7,231.5 L81.4,222.9 L87.4,219.5 L96.0,215.2 L104.6,210.9 L109.7,204.0 L110.6,195.5 L113.2,188.6 L117.5,181.7 L117.5,171.5 L120.0,162.9 L126.9,154.3 L135.5,149.2 L145.8,142.3 L156.0,137.2 L164.6,132.0 L173.2,125.1 L176.9,122.3 L183.7,117.2 L191.4,117.2 L197.4,121.4 L204.3,121.4 L211.2,124.0 L216.3,121.4 L221.5,117.2 L226.6,120.6 L233.5,124.9 L236.9,122.3 L242.0,122.3 L247.2,124.9 L255.8,124.0 L259.2,125.7 L260.9,130.0 L267.8,127.4 L269.5,113.7 L274.6,112.0 L281.5,114.6 L290.0,118.0 L296.0,125.0 L304.0,123.0 L311.0,127.0 L316.0,128.0 L323.0,132.0 L333.0,131.0 L340.0,128.0 L350.0,129.0 L360.0,131.0 L368.0,138.0 L374.0,141.0 L386.0,144.0 L398.0,145.0 L404.0,152.0 L406.0,160.0 L412.0,162.0 L418.0,158.0 L430.0,158.8 L437.5,161.2 L447.5,158.8 L455.0,161.2 L462.5,162.5 L480.0,165.0 L500.0,172.5 L510.0,180.0 L517.5,187.5 L522.5,197.5 L525.0,205.0 L527.5,210.0 L527.5,222.5 L525.0,232.5 L527.5,240.0 L532.5,250.0 L530.0,260.0 L529.3,265.7 L527.1,271.4 L531.4,275.7 L535.7,278.6 L537.1,284.3 L540.0,290.0 L542.9,294.3 L546.4,298.6 L551.4,301.4 L552.9,307.1 L554.3,314.3 L558.6,321.4 L565.7,328.6 L565.7,331.4 L561.4,337.1 L560.0,345.7 L557.9,352.9 L557.1,360.0 L557.1,367.1 L565.7,372.9 L567.1,367.1 L584.3,364.3 L587.1,365.7 L604.3,365.0 L611.4,367.9 L620.0,367.1 L624.3,369.3 L630.0,367.1 L637.1,374.3 L638.6,377.1 L634.3,380.0 L632.9,387.1 L632.1,397.1 L629.3,405.0 L635.7,407.1 L641.4,407.1 L647.5,405.0 L652.9,401.0 L660.0,398.6 L663.9,402.6 L667.0,410.4 L670.2,421.4 L674.9,429.3 L684.3,432.5 L687.5,432.5 L681.4,438.9 L676.3,445.7 L671.1,452.6 L667.7,457.7 L664.3,461.1 L660.9,462.9 L655.0,469.0 L649.7,475.7 L643.5,484.3 L637.1,502.0 L630.3,520.3 L616.6,519.1 L600.6,519.1 L591.4,519.1 L580.0,521.4 L568.6,524.9 L559.4,531.7 L550.3,538.6 L543.4,543.1 L536.6,550.0 L527.4,547.7 L518.3,540.9 L509.1,535.1 L500.0,527.1 L495.0,525.0 L487.1,524.0 L478.0,527.4 L468.9,528.6 L459.7,528.6 L454.0,532.0 L451.7,538.9 L448.3,532.0 L441.4,527.4 L432.3,526.3 L427.7,525.1 L425.4,530.9 L420.9,534.3 L418.6,540.0 L414.0,545.7 L411.7,551.4 L404.9,548.0 L399.1,554.9 L395.7,551.4 L375.0,550.0 L365.0,545.0 L362.0,540.0 L356.8,538.3 L355.1,543.4 L356.0,552.0 L358.5,555.4 L357.7,562.2 L360.3,567.4 L355.1,572.5 L360.3,579.4 L358.5,582.8 L351.7,585.4 L330.0,590.0 L312.5,592.5 L300.0,590.5 L290.0,588.0 L275.0,585.0 L270.0,580.0 L257.5,576.2 L247.5,573.8 L235.0,570.0 L220.0,568.8 L210.0,566.2 L197.5,563.8 L181.5,562.9 L172.9,566.3 L164.3,562.9 L157.5,557.8 L150.6,551.8 L142.0,551.8 L135.2,556.0 L128.3,556.0 L121.5,552.6 L116.3,545.8 L111.2,540.6 L109.5,532.0 L106.0,527.8 L102.6,523.5 L98.3,520.0 L97.4,511.5 L96.6,502.9 L95.7,494.3 L92.3,485.7 L88.9,478.9 L83.7,475.4 L80.3,472.0 L75.1,472.0 L70.8,474.5 L69.2,465.0 L64.5,466.6 L59.7,472.9 L51.9,471.3 L45.6,474.5 L39.3,480.8 L36.2,487.0 L34.6,482.3 L28.3,477.6 L23.6,474.5 L19.7,469.7 Z" fill="none" stroke="#fff" stroke-width="3.2" stroke-linejoin="round"/>
<path d="M20.4,461.9 L20.6,459.8 L20.8,457.7 L22.0,455.9 L21.6,453.7 L22.7,451.8 L23.0,449.7 L23.6,447.7 L24.4,445.7 L26.2,444.6 L27.5,443.0 L28.0,440.6 L29.6,438.8 L30.7,436.7 L30.7,434.2 L31.3,431.9 L32.3,429.6 L33.0,427.3 L34.5,425.4 L34.7,422.9 L36.2,421.0 L34.8,419.1 L34.2,416.7 L33.0,414.7 L33.0,410.8 L34.1,408.7 L34.1,406.4 L34.3,404.1 L35.6,402.1 L35.4,399.7 L35.3,397.5 L37.0,395.8 L36.8,393.6 L37.1,391.5 L37.7,389.5 L38.5,387.5 L39.3,385.6 L40.3,383.6 L39.9,381.3 L40.9,379.3 L41.8,377.4 L42.6,375.4 L43.1,373.3 L44.0,371.4 L44.7,369.2 L44.7,366.8 L45.3,364.6 L46.2,362.5 L47.2,360.4 L47.5,357.8 L47.1,355.2 L47.2,352.6 L47.7,350.0 L47.8,347.7 L48.5,345.5 L48.6,343.2 L49.0,341.0 L50.1,338.9 L51.6,337.1 L52.6,335.3 L53.1,333.3 L53.1,331.2 L54.1,329.4 L54.0,327.3 L53.7,325.1 L53.5,323.0 L52.9,321.0 L51.6,319.4 L50.3,317.8 L48.5,316.1 L47.1,314.0 L47.8,311.8 L46.6,309.5 L47.0,307.2 L47.1,305.0 L47.9,302.9 L47.5,300.6 L48.4,298.6 L49.6,296.6 L50.9,294.7 L49.0,292.1 L47.7,290.0 L47.7,287.6 L45.2,286.8 L42.6,286.4 L44.8,286.8 L47.0,286.5 L49.1,286.9 L51.3,286.1 L53.5,286.7 L55.7,286.5 L57.9,286.5 L60.0,286.3 L62.2,286.9 L64.4,286.4 L67.0,285.3 L68.9,283.1 L69.8,281.2 L70.8,279.3 L71.7,276.8 L72.1,274.1 L70.6,272.5 L70.2,270.3 L71.1,267.8 L71.5,265.1 L72.4,262.6 L73.7,260.2 L73.8,257.5 L74.7,255.4 L74.4,253.1 L75.0,250.9 L75.9,248.8 L75.4,246.4 L76.5,244.4 L76.6,242.1 L77.5,240.0 L77.5,237.7 L78.0,235.6 L79.5,233.7 L79.7,231.5 L79.6,229.2 L80.2,227.1 L80.8,225.0 L81.4,222.9 L83.7,222.2 L85.1,220.1 L87.4,219.5 L89.5,218.4 L91.7,217.4 L94.1,216.8 L96.0,215.2 L98.3,214.5 L100.5,213.5 L102.3,211.7 L104.6,210.9 L105.8,209.1 L107.0,207.3 L108.9,206.0 L109.7,204.0 L110.6,201.9 L109.7,199.7 L109.9,197.6 L110.6,195.5 L111.1,193.1 L112.0,190.8 L113.2,188.6 L114.3,186.9 L115.5,185.2 L116.1,183.2 L117.5,181.7 L116.8,179.7 L117.4,177.6 L117.3,175.6 L117.6,173.5 L117.5,171.5 L118.7,169.5 L119.0,167.3 L119.4,165.1 L120.0,162.9 L121.5,161.3 L123.0,159.6 L123.7,157.3 L126.0,156.4 L126.9,154.3 L129.2,153.4 L131.5,152.2 L133.6,150.8 L135.5,149.2 L137.1,147.9 L138.9,146.8 L140.3,145.3 L142.5,144.8 L143.7,142.9 L145.8,142.3 L147.6,140.7 L149.7,139.9 L151.7,138.8 L153.9,138.0 L156.0,137.2 L157.4,135.6 L159.1,134.5 L160.9,133.7 L162.6,132.6 L164.6,132.0 L166.2,130.5 L167.6,128.7 L170.1,128.3 L171.6,126.6 L173.2,125.1 L174.8,123.3 L176.9,122.3 L178.4,120.7 L180.2,119.6 L181.9,118.3 L183.7,117.2 L186.3,116.7 L188.8,117.7 L191.4,117.2 L193.0,119.2 L195.4,120.0 L197.4,121.4 L199.7,121.4 L202.0,120.8 L204.3,121.4 L206.8,121.7 L209.0,122.9 L211.2,124.0 L213.6,122.4 L216.3,121.4 L218.3,120.4 L219.5,118.2 L221.5,117.2 L223.6,117.8 L224.5,120.0 L226.6,120.6 L228.3,121.7 L230.3,122.3 L231.7,123.9 L233.5,124.9 L234.8,123.1 L236.9,122.3 L239.4,122.3 L242.0,122.3 L244.3,124.2 L247.2,124.9 L249.4,125.2 L251.5,124.7 L253.6,123.9 L255.8,124.0 L259.2,125.7 L260.2,127.8 L260.9,130.0 L263.0,128.7 L265.6,128.6 L267.8,127.4 L268.1,125.1 L268.8,122.9 L268.4,120.5 L268.5,118.2 L269.6,116.0 L269.5,113.7 L272.3,113.5 L274.6,112.0 L276.7,113.3 L279.0,114.1 L281.5,114.6 L283.5,115.9 L285.6,116.6 L288.0,116.8 L290.0,118.0 L291.5,119.8 L293.2,121.4 L295.0,122.8 L296.0,125.0 L297.8,123.9 L299.9,123.7 L301.9,123.2 L304.0,123.0 L305.6,124.2 L307.2,125.6 L309.3,125.9 L311.0,127.0 L313.4,128.1 L316.0,128.0 L317.4,129.6 L319.2,130.6 L321.3,130.8 L323.0,132.0 L325.0,131.4 L327.0,131.2 L329.0,131.0 L331.0,130.8 L333.0,131.0 L335.4,130.2 L337.9,129.5 L340.0,128.0 L342.0,128.7 L344.0,128.4 L346.0,128.8 L348.0,129.2 L350.0,129.0 L352.1,128.8 L354.0,130.0 L355.9,130.8 L357.9,131.0 L360.0,131.0 L361.4,132.7 L363.2,133.8 L365.1,134.9 L366.1,136.9 L368.0,138.0 L370.1,138.8 L371.8,140.4 L374.0,141.0 L375.8,142.1 L378.0,141.9 L380.0,142.4 L381.8,143.6 L383.9,143.8 L386.0,144.0 L388.0,143.7 L390.0,143.8 L392.0,144.0 L394.0,145.2 L396.0,145.3 L398.0,145.0 L399.9,146.4 L400.7,148.8 L402.0,150.7 L404.0,152.0 L404.3,154.1 L405.2,155.9 L405.4,158.0 L406.0,160.0 L408.2,160.2 L410.2,160.7 L412.0,162.0 L414.4,161.2 L416.1,159.5 L418.0,158.0 L420.0,158.2 L422.0,158.9 L424.0,158.3 L426.0,159.0 L428.0,159.1 L430.0,158.8 L432.6,159.2 L435.1,160.1 L437.5,161.2 L439.4,160.5 L441.4,159.9 L443.5,159.9 L445.4,158.9 L447.5,158.8 L450.0,159.5 L452.7,159.9 L455.0,161.2 L457.4,162.2 L460.0,161.9 L462.5,162.5 L464.7,162.8 L466.9,163.2 L469.0,164.0 L471.3,163.6 L473.4,164.6 L475.6,164.4 L477.8,164.7 L480.0,165.0 L482.0,165.8 L484.2,165.9 L486.0,167.2 L488.2,167.6 L490.2,168.1 L491.9,169.9 L494.2,169.8 L496.0,171.0 L497.9,172.0 L500.0,172.5 L501.6,173.8 L503.5,174.8 L505.0,176.3 L506.6,177.6 L508.1,179.1 L510.0,180.0 L511.9,181.1 L512.9,183.1 L514.7,184.3 L516.2,185.8 L517.5,187.5 L518.2,189.7 L519.5,191.5 L520.4,193.5 L521.2,195.7 L522.5,197.5 L522.8,200.2 L524.2,202.5 L525.0,205.0 L526.1,207.6 L527.5,210.0 L527.5,212.1 L527.5,214.2 L527.2,216.2 L527.6,218.3 L527.5,220.4 L527.5,222.5 L527.0,224.5 L525.9,226.4 L525.7,228.4 L525.0,230.4 L525.0,232.5 L525.2,235.2 L527.0,237.4 L527.5,240.0 L528.4,242.0 L528.9,244.3 L530.1,246.2 L532.0,247.8 L532.5,250.0 L532.5,252.1 L531.6,254.0 L531.6,256.1 L530.9,258.1 L530.0,260.0 L530.2,262.9 L529.3,265.7 L528.3,267.5 L527.5,269.4 L527.1,271.4 L528.1,273.2 L530.3,273.9 L531.4,275.7 L533.4,277.4 L535.7,278.6 L536.2,281.5 L537.1,284.3 L538.5,286.0 L538.6,288.3 L540.0,290.0 L540.9,292.5 L542.9,294.3 L545.0,296.2 L546.4,298.6 L548.6,300.6 L551.4,301.4 L552.3,304.2 L552.9,307.1 L553.4,309.5 L553.2,312.0 L554.3,314.3 L555.0,316.3 L556.9,317.6 L557.6,319.6 L558.6,321.4 L560.0,322.9 L561.6,324.1 L563.2,325.4 L564.5,327.0 L565.7,328.6 L565.7,331.4 L564.0,333.1 L563.4,335.6 L561.4,337.1 L561.0,339.2 L560.8,341.4 L561.0,343.7 L560.0,345.7 L559.5,348.2 L558.4,350.5 L557.9,352.9 L557.6,355.3 L558.0,357.7 L557.1,360.0 L556.4,362.4 L556.7,364.7 L557.1,367.1 L558.5,368.8 L560.8,369.0 L562.4,370.3 L564.3,371.2 L565.7,372.9 L566.8,370.1 L567.1,367.1 L569.2,366.4 L571.3,365.9 L573.5,365.9 L575.8,366.3 L577.9,365.8 L579.9,364.7 L582.1,364.2 L584.3,364.3 L587.1,365.7 L589.3,366.2 L591.4,365.6 L593.6,365.7 L595.7,364.8 L597.8,364.6 L600.0,365.4 L602.1,365.0 L604.3,365.0 L606.9,365.4 L608.8,367.5 L611.4,367.9 L613.6,367.9 L615.7,367.9 L617.8,366.7 L620.0,367.1 L621.9,368.6 L624.3,369.3 L626.0,368.0 L628.3,368.3 L630.0,367.1 L631.5,368.5 L633.0,369.8 L634.2,371.5 L635.3,373.3 L637.1,374.3 L638.6,377.1 L636.6,378.8 L634.3,380.0 L634.3,382.5 L633.3,384.7 L632.9,387.1 L633.1,389.1 L633.1,391.1 L632.9,393.1 L632.9,395.2 L632.1,397.1 L631.8,399.2 L630.9,401.1 L630.3,403.1 L629.3,405.0 L631.3,406.0 L633.7,406.1 L635.7,407.1 L638.5,407.1 L641.4,407.1 L643.3,406.0 L645.4,405.5 L647.5,405.0 L648.9,403.1 L650.9,402.1 L652.9,401.0 L655.0,399.6 L657.7,399.7 L660.0,398.6 L661.9,400.6 L663.9,402.6 L665.1,404.4 L665.5,406.5 L665.7,408.7 L667.0,410.4 L668.2,412.4 L667.9,414.9 L669.0,417.0 L669.6,419.2 L670.2,421.4 L671.0,423.6 L672.7,425.3 L673.7,427.3 L674.9,429.3 L677.2,430.3 L679.4,431.5 L682.0,431.5 L684.3,432.5 L687.5,432.5 L685.6,433.8 L684.2,435.5 L682.8,437.2 L681.4,438.9 L680.2,440.7 L679.0,442.4 L678.1,444.4 L676.3,445.7 L675.4,447.7 L674.2,449.5 L672.1,450.7 L671.1,452.6 L670.3,454.5 L669.2,456.3 L667.7,457.7 L666.4,459.8 L664.3,461.1 L660.9,462.9 L659.1,464.1 L657.6,465.6 L656.3,467.3 L655.0,469.0 L653.9,470.9 L652.6,472.6 L651.3,474.2 L649.7,475.7 L648.5,477.5 L647.6,479.4 L646.0,480.9 L645.0,482.8 L643.5,484.3 L642.2,486.0 L641.5,488.0 L641.3,490.2 L641.0,492.3 L639.3,493.9 L639.5,496.2 L638.7,498.1 L638.5,500.3 L637.1,502.0 L636.5,504.1 L635.6,506.1 L634.8,508.1 L634.5,510.3 L633.3,512.2 L633.2,514.4 L632.1,516.3 L631.6,518.5 L630.3,520.3 L628.0,520.2 L625.7,520.5 L623.4,520.4 L621.1,519.8 L618.9,519.7 L616.6,519.1 L614.6,519.0 L612.6,519.1 L610.6,518.7 L608.6,518.9 L606.6,518.8 L604.6,518.6 L602.6,519.3 L600.6,519.1 L598.3,519.3 L596.0,518.4 L593.7,519.6 L591.4,519.1 L589.1,519.3 L586.8,519.8 L584.7,521.1 L582.2,520.5 L580.0,521.4 L577.6,521.6 L575.4,522.6 L573.1,523.2 L570.8,523.8 L568.6,524.9 L567.1,526.7 L564.9,527.6 L563.1,529.0 L561.0,530.0 L559.4,531.7 L557.3,532.7 L555.5,534.1 L553.9,535.7 L551.8,536.8 L550.3,538.6 L548.4,539.5 L546.7,540.6 L545.3,542.3 L543.4,543.1 L542.2,545.3 L540.4,546.9 L538.4,548.4 L536.6,550.0 L534.2,550.0 L532.1,548.4 L529.7,548.2 L527.4,547.7 L525.7,546.2 L523.9,544.8 L522.1,543.4 L520.1,542.3 L518.3,540.9 L516.1,540.3 L514.8,538.2 L513.0,537.1 L510.9,536.3 L509.1,535.1 L507.6,533.7 L506.2,532.3 L504.1,531.6 L503.3,529.5 L501.3,528.7 L500.0,527.1 L497.3,526.6 L495.0,525.0 L492.3,525.0 L489.8,524.0 L487.1,524.0 L485.0,525.2 L482.4,525.4 L480.0,525.9 L478.0,527.4 L475.7,527.7 L473.5,528.2 L471.2,528.3 L468.9,528.6 L466.6,528.3 L464.3,528.2 L462.0,528.4 L459.7,528.6 L457.7,529.6 L456.2,531.4 L454.0,532.0 L453.7,534.5 L452.8,536.7 L451.7,538.9 L450.9,536.4 L449.2,534.4 L448.3,532.0 L446.6,530.8 L444.5,530.3 L442.8,529.1 L441.4,527.4 L439.1,527.4 L436.9,526.6 L434.6,526.3 L432.3,526.3 L430.1,525.5 L427.7,525.1 L427.2,527.1 L426.1,529.0 L425.4,530.9 L423.2,532.6 L420.9,534.3 L420.2,536.2 L419.9,538.3 L418.6,540.0 L416.6,541.6 L415.9,544.1 L414.0,545.7 L412.6,547.3 L411.9,549.3 L411.7,551.4 L409.1,550.9 L407.1,549.2 L404.9,548.0 L403.1,549.4 L401.5,551.0 L400.6,553.2 L399.1,554.9 L397.2,553.4 L395.7,551.4 L393.6,551.7 L391.6,550.5 L389.5,551.4 L387.4,550.7 L385.3,551.2 L383.3,550.5 L381.3,549.8 L379.1,550.8 L377.1,549.7 L375.0,550.0 L373.0,549.0 L371.2,547.5 L369.1,546.7 L366.8,546.3 L365.0,545.0 L364.0,542.2 L362.0,540.0 L359.4,539.2 L356.8,538.3 L356.6,541.1 L355.1,543.4 L356.0,545.5 L355.6,547.7 L355.8,549.8 L356.0,552.0 L357.5,553.5 L358.5,555.4 L358.7,557.7 L358.2,560.0 L357.7,562.2 L359.2,564.7 L360.3,567.4 L358.2,568.8 L357.3,571.3 L355.1,572.5 L356.1,574.4 L357.3,576.2 L359.4,577.4 L360.3,579.4 L358.5,582.8 L356.0,583.1 L353.9,584.3 L351.7,585.4 L349.6,585.3 L347.8,586.5 L345.8,586.8 L343.8,587.2 L341.7,586.8 L339.8,587.8 L337.9,588.5 L335.9,588.8 L334.0,589.5 L332.1,590.2 L330.0,590.0 L327.9,590.9 L325.6,590.2 L323.5,591.2 L321.2,590.6 L319.1,591.9 L316.9,592.2 L314.7,592.2 L312.5,592.5 L310.3,592.6 L308.3,592.0 L306.4,590.9 L304.3,590.6 L302.2,590.4 L300.0,590.5 L298.0,589.8 L296.1,588.9 L294.1,588.4 L292.0,588.4 L290.0,588.0 L287.9,587.3 L285.6,587.8 L283.6,586.4 L281.4,586.4 L279.4,585.5 L277.2,585.2 L275.0,585.0 L273.1,583.5 L271.2,582.1 L270.0,580.0 L268.1,578.8 L265.7,579.2 L263.7,578.2 L261.6,577.7 L259.5,577.1 L257.5,576.2 L255.6,575.4 L253.7,574.6 L251.4,575.1 L249.6,574.0 L247.5,573.8 L245.3,573.4 L243.4,572.4 L241.2,572.0 L239.0,571.7 L236.9,571.1 L235.0,570.0 L232.8,570.2 L230.8,569.1 L228.6,569.5 L226.4,569.7 L224.3,568.5 L222.2,568.2 L220.0,568.8 L218.0,568.3 L215.9,568.2 L213.9,567.7 L211.9,567.3 L210.0,566.2 L207.9,566.1 L205.7,566.0 L203.7,565.4 L201.6,564.9 L199.6,564.1 L197.5,563.8 L195.5,563.1 L193.5,563.2 L191.5,563.6 L189.5,563.4 L187.5,563.2 L185.5,563.3 L183.5,563.2 L181.5,562.9 L179.6,564.3 L177.3,564.9 L174.8,564.8 L172.9,566.3 L170.6,565.9 L168.6,564.6 L166.5,563.6 L164.3,562.9 L162.9,561.2 L160.7,560.7 L159.0,559.3 L157.5,557.8 L155.5,556.6 L154.0,554.9 L152.3,553.4 L150.6,551.8 L148.4,551.2 L146.3,551.3 L144.2,551.3 L142.0,551.8 L140.1,553.8 L137.8,555.2 L135.2,556.0 L132.9,555.7 L130.6,555.4 L128.3,556.0 L126.0,554.9 L123.8,553.6 L121.5,552.6 L119.6,551.3 L118.8,549.3 L118.1,547.1 L116.3,545.8 L114.9,543.7 L113.3,542.0 L111.2,540.6 L111.4,538.3 L110.0,536.4 L109.4,534.3 L109.5,532.0 L107.4,530.2 L106.0,527.8 L104.3,525.6 L102.6,523.5 L100.6,521.6 L98.3,520.0 L98.7,517.8 L98.2,515.7 L97.8,513.6 L97.4,511.5 L97.6,509.3 L96.9,507.2 L96.9,505.0 L96.6,502.9 L95.7,500.8 L96.5,498.6 L95.6,496.5 L95.7,494.3 L95.4,491.9 L94.2,489.9 L92.9,488.0 L92.3,485.7 L90.7,483.7 L89.7,481.3 L88.9,478.9 L87.3,477.6 L85.6,476.3 L83.7,475.4 L81.6,474.1 L80.3,472.0 L77.7,472.6 L75.1,472.0 L72.9,473.2 L70.8,474.5 L70.5,472.1 L69.8,469.8 L69.2,467.4 L69.2,465.0 L66.8,465.7 L64.5,466.6 L63.4,469.1 L61.5,471.0 L59.7,472.9 L57.1,472.4 L54.6,471.2 L51.9,471.3 L49.7,472.2 L47.5,473.0 L45.6,474.5 L44.0,476.1 L42.7,477.9 L41.1,479.5 L39.3,480.8 L37.7,482.6 L37.0,484.8 L36.2,487.0 L35.1,484.7 L34.6,482.3 L32.1,481.3 L30.4,479.2 L28.3,477.6 L26.1,475.8 L23.6,474.5 L22.2,473.0 L20.7,471.5 L19.7,469.7 L20.2,467.1 L20.8,464.6 Z" fill="none" stroke="#000" stroke-width="1.2" stroke-linejoin="miter"/>
<path d="M20.7,460.5 l-1.7,-0.4 M21.4,457.6 l-1.3,-0.3 M22.0,454.8 l-1.9,-0.4 M22.6,452.0 l-2.0,-0.5 M23.3,449.1 l-2.5,-0.6 M24.6,446.5 l-1.3,-1.1 M26.5,444.2 l-2.1,-1.8 M28.3,441.4 l-2.4,-1.2 M29.9,438.3 l-2.0,-1.0 M31.1,435.1 l-1.6,-0.4 M31.9,432.0 l-3.0,-0.7 M32.6,428.9 l-1.8,-0.4 M33.8,425.7 l-2.5,-1.3 M35.4,422.6 l-1.5,-0.8 M35.4,419.4 l-1.5,0.8 M33.8,416.3 l-2.4,1.2 M33.0,412.8 l-1.8,-0.0 M33.3,409.4 l-3.0,-0.6 M33.9,406.6 l-2.2,-0.5 M34.5,403.9 l-1.6,-0.3 M35.1,401.1 l-1.7,-0.4 M35.8,398.3 l-2.0,-0.5 M36.6,395.5 l-2.4,-0.7 M37.3,392.6 l-2.9,-0.8 M38.1,389.8 l-1.5,-0.4 M38.9,387.0 l-1.9,-0.5 M39.7,384.0 l-1.6,-0.4 M40.5,380.9 l-3.0,-0.8 M41.4,378.0 l-1.5,-0.6 M42.5,375.4 l-1.3,-0.5 M43.5,372.7 l-1.3,-0.5 M44.4,370.0 l-1.9,-0.6 M45.2,367.3 l-2.8,-0.8 M46.0,364.5 l-2.8,-0.8 M46.8,361.8 l-2.5,-0.7 M47.2,358.4 l-3.1,-0.0 M47.2,354.6 l-3.0,-0.0 M47.9,348.5 l-1.9,-0.3 M48.4,345.5 l-1.6,-0.2 M48.8,342.5 l-3.0,-0.4 M50.3,339.1 l-2.2,-1.5 M52.2,335.2 l-1.3,-0.4 M53.5,331.3 l-2.4,-0.8 M54.0,327.8 l-2.0,0.2 M53.6,324.6 l-2.0,0.2 M52.7,321.7 l-1.6,1.0 M51.1,319.1 l-1.4,0.8 M48.7,315.9 l-1.0,0.8 M47.1,312.5 l-1.8,-0.0 M47.1,309.5 l-1.9,-0.0 M47.1,306.5 l-3.0,-0.0 M47.4,303.4 l-1.5,-0.3 M48.1,300.2 l-3.0,-0.6 M49.6,296.6 l-1.4,-0.9 M50.0,293.4 l-1.6,1.1 M48.4,289.9 l-2.7,0.8 M45.2,287.0 l-0.6,2.7 M98.2,518.6 l-2.1,0.2 M97.8,515.8 l-1.4,0.1 M97.6,512.9 l-2.1,0.2 M97.3,510.1 l-2.0,0.2 M97.0,507.2 l-3.0,0.3 M96.7,504.3 l-1.6,0.2 M96.4,501.5 l-2.0,0.2 M96.2,498.6 l-2.9,0.3 M95.8,495.7 l-1.3,0.1 M95.1,492.9 l-1.9,0.8 M94.0,490.0 l-2.6,1.0 M92.9,487.1 l-2.5,1.0 M91.5,484.0 l-1.2,0.6 M89.8,480.6 l-1.2,0.6 M87.6,478.0 l-0.8,1.2 M85.0,476.3 l-1.7,2.5 M82.0,473.7 l-1.3,1.3 M77.7,472.0 l-0.0,2.7 M72.9,473.2 l1.5,2.5 M70.5,472.9 l-1.9,0.3 M70.0,469.8 l-1.8,0.3 M69.5,466.6 l-3.0,0.5 M66.8,465.8 l0.8,2.3 M63.3,468.2 l1.4,1.1 M60.9,471.3 l2.1,1.6 M57.8,472.5 l-0.4,1.8 M53.9,471.7 l-0.4,1.8 M50.3,472.1 l0.6,1.2 M47.2,473.7 l1.2,2.4 M44.5,475.6 l2.1,2.1 M42.5,477.6 l1.7,1.7 M40.3,479.8 l2.1,2.1 M38.5,482.4 l1.2,0.6 M37.0,485.4 l1.5,0.8 M35.4,484.6 l-2.0,0.7 M33.0,481.1 l-1.8,2.4 M29.9,478.8 l-1.8,2.4 M27.1,476.8 l-1.1,1.7 M24.8,475.3 l-1.0,1.5 M22.6,473.3 l-1.6,1.3 M20.7,470.9 l-1.7,1.4 M19.9,467.8 l-3.0,-0.3 M20.2,463.8 l-1.6,-0.1" fill="none" stroke="#000" stroke-width="1.3"/>
<path d="M640.5,444 L643,438 L645.5,432.5 L650,436 L655.5,433 L660,437 L664,440 L670,438.5 L677,437 L673,442 L668,448 L663,455 L659,460 L655,463 L645,463 L641,458 L640,450 Z" fill="#fff" stroke="#000" stroke-width="1.4"/>
<path d="M642,447 L647,441 L651,447 L647,455 L643,454 Z" fill="rgb(225,175,70)" stroke="#000" stroke-width="0.8"/>
<path d="M659,448 L664,444 L665,452 L661,461 L657,458 Z" fill="rgb(225,175,70)" stroke="#000" stroke-width="0.8"/>
<path d="M646,434 L648,441 L645,446 M652,436 L654,444 L651,449 M658,438 L656,446 L660,452 M666,441 L672,440 M650,450 L654,458 M662,446 L667,444 M655,455 L652,462 M644,441 L641,447" fill="none" stroke="#000" stroke-width="1.5"/>
<rect x="9.3" y="96.4" width="680.3" height="508.1" fill="none" stroke="#000" stroke-width="2.6"/>
<rect x="149.5" y="151" width="36.0" height="13" fill="#fff"/>
<text transform="translate(152.50,164.30) scale(1.03,1)" font-size="13.8" letter-spacing="1.15" fill="#000" stroke="#000" stroke-width="0.25" xml:space="preserve">24.3</text>
<rect x="220" y="171.25" width="37.5" height="13.0" fill="#fff"/>
<text transform="translate(223.00,184.55) scale(1.03,1)" font-size="13.8" letter-spacing="1.15" fill="#000" stroke="#000" stroke-width="0.25" xml:space="preserve">22.9</text>
<rect x="463.75" y="161.25" width="36.25" height="13.75" fill="#fff"/>
<text transform="translate(466.75,175.30) scale(1.03,1)" font-size="13.8" letter-spacing="1.15" fill="#000" stroke="#000" stroke-width="0.25" xml:space="preserve">22.5</text>
<rect x="405.4" y="185.4" width="36.0" height="11.5" fill="#fff"/>
<text transform="translate(408.40,197.20) scale(1.03,1)" font-size="13.8" letter-spacing="1.15" fill="#000" stroke="#000" stroke-width="0.25" xml:space="preserve">21.7</text>
<rect x="457.5" y="191.25" width="37.5" height="12.5" fill="#fff"/>
<text transform="translate(460.50,204.05) scale(1.03,1)" font-size="13.8" letter-spacing="1.15" fill="#000" stroke="#000" stroke-width="0.25" xml:space="preserve">21.1</text>
<rect x="350" y="203.75" width="37.5" height="12.5" fill="#fff"/>
<text transform="translate(353.00,216.55) scale(1.03,1)" font-size="13.8" letter-spacing="1.15" fill="#000" stroke="#000" stroke-width="0.25" xml:space="preserve">23.8</text>
<rect x="266.25" y="213.75" width="37.5" height="12.5" fill="#fff"/>
<text transform="translate(269.25,226.55) scale(1.03,1)" font-size="13.8" letter-spacing="1.15" fill="#000" stroke="#000" stroke-width="0.25" xml:space="preserve">21.8</text>
<rect x="312.5" y="221.25" width="37.5" height="13.0" fill="#fff"/>
<text transform="translate(315.50,234.55) scale(1.03,1)" font-size="13.8" letter-spacing="1.15" fill="#000" stroke="#000" stroke-width="0.25" xml:space="preserve">22.3</text>
<rect x="200" y="242.5" width="37.5" height="12.5" fill="#fff"/>
<text transform="translate(203.00,255.30) scale(1.03,1)" font-size="13.8" letter-spacing="1.15" fill="#000" stroke="#000" stroke-width="0.25" xml:space="preserve">22.3</text>
<rect x="77.5" y="262.5" width="36.25" height="12.5" fill="#fff"/>
<text transform="translate(80.50,275.30) scale(1.03,1)" font-size="13.8" letter-spacing="1.15" fill="#000" stroke="#000" stroke-width="0.25" xml:space="preserve">24.2</text>
<rect x="137.5" y="253.75" width="35.0" height="13.25" fill="#fff"/>
<text transform="translate(140.50,267.30) scale(1.03,1)" font-size="13.8" letter-spacing="1.15" fill="#000" stroke="#000" stroke-width="0.25" xml:space="preserve">22.0</text>
<rect x="225" y="286.25" width="36.25" height="13.75" fill="#fff"/>
<text transform="translate(228.00,300.30) scale(1.03,1)" font-size="13.8" letter-spacing="1.15" fill="#000" stroke="#000" stroke-width="0.25" xml:space="preserve">20.5</text>
<rect x="132.5" y="306.25" width="37.5" height="13.25" fill="#fff"/>
<text transform="translate(135.50,319.80) scale(1.03,1)" font-size="13.8" letter-spacing="1.15" fill="#000" stroke="#000" stroke-width="0.25" xml:space="preserve">22.9</text>
<rect x="406.25" y="318.75" width="37.5" height="12.5" fill="#fff"/>
<text transform="translate(409.25,331.55) scale(1.03,1)" font-size="13.8" letter-spacing="1.15" fill="#000" stroke="#000" stroke-width="0.25" xml:space="preserve">17.8</text>
<rect x="501.25" y="306.25" width="36.25" height="12.5" fill="#fff"/>
<text transform="translate(504.25,319.05) scale(1.03,1)" font-size="13.8" letter-spacing="1.15" fill="#000" stroke="#000" stroke-width="0.25" xml:space="preserve">18.3</text>
<rect x="167" y="345" width="36.75" height="12.5" fill="#fff"/>
<text transform="translate(170.00,357.80) scale(1.03,1)" font-size="13.8" letter-spacing="1.15" fill="#000" stroke="#000" stroke-width="0.25" xml:space="preserve">22.3</text>
<rect x="342.5" y="353.75" width="37.5" height="12.5" fill="#fff"/>
<text transform="translate(345.50,366.55) scale(1.03,1)" font-size="13.8" letter-spacing="1.15" fill="#000" stroke="#000" stroke-width="0.25" xml:space="preserve">20.2</text>
<rect x="91.25" y="372.5" width="36.25" height="12.5" fill="#fff"/>
<text transform="translate(94.25,385.30) scale(1.03,1)" font-size="13.8" letter-spacing="1.15" fill="#000" stroke="#000" stroke-width="0.25" xml:space="preserve">18.3</text>
<rect x="107.5" y="385" width="36.25" height="12.5" fill="#fff"/>
<text transform="translate(110.50,397.80) scale(1.03,1)" font-size="13.8" letter-spacing="1.15" fill="#000" stroke="#000" stroke-width="0.25" xml:space="preserve">21.3</text>
<rect x="32.5" y="387.5" width="35.0" height="12.5" fill="#fff"/>
<text transform="translate(35.50,400.30) scale(1.03,1)" font-size="13.8" letter-spacing="1.15" fill="#000" stroke="#000" stroke-width="0.25" xml:space="preserve">22.6</text>
<rect x="266.25" y="386.25" width="37.5" height="12.5" fill="#fff"/>
<text transform="translate(269.25,399.05) scale(1.03,1)" font-size="13.8" letter-spacing="1.15" fill="#000" stroke="#000" stroke-width="0.25" xml:space="preserve">19.4</text>
<rect x="544.5" y="377.5" width="35.5" height="12.5" fill="#fff"/>
<text transform="translate(547.50,390.30) scale(1.03,1)" font-size="13.8" letter-spacing="1.15" fill="#000" stroke="#000" stroke-width="0.25" xml:space="preserve">20.6</text>
<rect x="452.5" y="398.75" width="37.5" height="12.5" fill="#fff"/>
<text transform="translate(455.50,411.55) scale(1.03,1)" font-size="13.8" letter-spacing="1.15" fill="#000" stroke="#000" stroke-width="0.25" xml:space="preserve">19.9</text>
<rect x="596.25" y="426.25" width="36.25" height="12.5" fill="#fff"/>
<text transform="translate(599.25,439.05) scale(1.03,1)" font-size="13.8" letter-spacing="1.15" fill="#000" stroke="#000" stroke-width="0.25" xml:space="preserve">21.5</text>
<rect x="36.25" y="438.75" width="36.25" height="12.25" fill="#fff"/>
<text transform="translate(39.25,451.30) scale(1.03,1)" font-size="13.8" letter-spacing="1.15" fill="#000" stroke="#000" stroke-width="0.25" xml:space="preserve">22.5</text>
<rect x="5.6" y="448.5" width="34.4" height="12.600000000000023" fill="#fff"/>
<text transform="translate(8.60,461.40) scale(1.03,1)" font-size="13.8" letter-spacing="1.15" fill="#000" stroke="#000" stroke-width="0.25" xml:space="preserve">21.3</text>
<rect x="317" y="443" width="37" height="11" fill="#fff"/>
<text transform="translate(320.00,454.30) scale(1.03,1)" font-size="13.8" letter-spacing="1.15" fill="#000" stroke="#000" stroke-width="0.25" xml:space="preserve">17.9</text>
<rect x="318" y="463" width="36" height="11" fill="#fff"/>
<text transform="translate(321.00,474.30) scale(1.03,1)" font-size="13.8" letter-spacing="1.15" fill="#000" stroke="#000" stroke-width="0.25" xml:space="preserve">16.8</text>
<rect x="410" y="450" width="36.25" height="13.75" fill="#fff"/>
<text transform="translate(413.00,464.05) scale(1.03,1)" font-size="13.8" letter-spacing="1.15" fill="#000" stroke="#000" stroke-width="0.25" xml:space="preserve">18.0</text>
<rect x="223.75" y="446" width="37.5" height="15" fill="#fff"/>
<text transform="translate(226.75,461.30) scale(1.03,1)" font-size="13.8" letter-spacing="1.15" fill="#000" stroke="#000" stroke-width="0.25" xml:space="preserve">21.0</text>
<rect x="95" y="457.5" width="20" height="12.5" fill="#fff"/>
<text transform="translate(98.00,470.30) scale(1.03,1)" font-size="13.8" letter-spacing="1.15" fill="#000" stroke="#000" stroke-width="0.25" xml:space="preserve">19</text>
<rect x="115" y="460" width="37.5" height="13.75" fill="#fff"/>
<text transform="translate(118.00,474.05) scale(1.03,1)" font-size="13.8" letter-spacing="1.15" fill="#000" stroke="#000" stroke-width="0.25" xml:space="preserve">20.1</text>
<rect x="152.5" y="463.75" width="36.25" height="13.75" fill="#fff"/>
<text transform="translate(155.50,477.80) scale(1.03,1)" font-size="13.8" letter-spacing="1.15" fill="#000" stroke="#000" stroke-width="0.25" xml:space="preserve">20.2</text>
<rect x="546.7" y="451" width="94.29999999999995" height="11.199999999999989" fill="#fff"/>
<rect x="618.8" y="462.2" width="29.200000000000045" height="11.100000000000023" fill="#fff"/>
<rect x="269" y="474" width="37" height="12" fill="#fff"/>
<text transform="translate(272.00,486.30) scale(1.03,1)" font-size="13.8" letter-spacing="1.15" fill="#000" stroke="#000" stroke-width="0.25" xml:space="preserve">18.7</text>
<rect x="542.5" y="475" width="36.25" height="12.5" fill="#fff"/>
<text transform="translate(545.50,487.80) scale(1.03,1)" font-size="13.8" letter-spacing="1.15" fill="#000" stroke="#000" stroke-width="0.25" xml:space="preserve">16.6</text>
<rect x="493.75" y="488.75" width="36.25" height="13.75" fill="#fff"/>
<text transform="translate(496.75,502.80) scale(1.03,1)" font-size="13.8" letter-spacing="1.15" fill="#000" stroke="#000" stroke-width="0.25" xml:space="preserve">18.3</text>
<rect x="156.25" y="522.5" width="37.5" height="12.5" fill="#fff"/>
<text transform="translate(159.25,535.30) scale(1.03,1)" font-size="13.8" letter-spacing="1.15" fill="#000" stroke="#000" stroke-width="0.25" xml:space="preserve">19.3</text>
<rect x="360" y="542.5" width="37.5" height="13.75" fill="#fff"/>
<text transform="translate(363.00,556.55) scale(1.03,1)" font-size="13.8" letter-spacing="1.15" fill="#000" stroke="#000" stroke-width="0.25" xml:space="preserve">20.0</text>
<rect x="268.75" y="570" width="36.25" height="13.75" fill="#fff"/>
<text transform="translate(271.75,584.05) scale(1.03,1)" font-size="13.8" letter-spacing="1.15" fill="#000" stroke="#000" stroke-width="0.25" xml:space="preserve">16.4</text>
<rect x="313.5" y="583.6" width="37.5" height="13.600000000000023" fill="#fff"/>
<text transform="translate(316.50,597.50) scale(1.03,1)" font-size="13.8" letter-spacing="1.15" fill="#000" stroke="#000" stroke-width="0.25" xml:space="preserve">15.8</text>
<text transform="translate(550.50,462.60) scale(1.03,1)" font-size="13.8" letter-spacing="1.15" fill="#000" stroke="#000" stroke-width="0.25" xml:space="preserve">18.4</text>
<text transform="translate(583.50,462.60) scale(1.03,1)" font-size="13.8" letter-spacing="1.15" fill="#000" stroke="#000" stroke-width="0.25" xml:space="preserve">15.9</text>
<text transform="translate(613.50,462.60) scale(1.03,1)" font-size="13.8" letter-spacing="1.15" fill="#000" stroke="#000" stroke-width="0.25" xml:space="preserve">7</text>
<text transform="translate(625.00,462.60) scale(1.03,1)" font-size="13.8" letter-spacing="1.15" fill="#000" stroke="#000" stroke-width="0.25" xml:space="preserve">2</text>
<text transform="translate(633.00,462.60) scale(1.03,1)" font-size="13.8" letter-spacing="1.15" fill="#000" stroke="#000" stroke-width="0.25" xml:space="preserve">.</text>
<text transform="translate(636.50,462.60) scale(1.03,1)" font-size="13.8" letter-spacing="1.15" fill="#000" stroke="#000" stroke-width="0.25" xml:space="preserve">7</text>
<text transform="translate(619.50,473.50) scale(1.03,1)" font-size="13.8" letter-spacing="1.15" fill="#000" stroke="#000" stroke-width="0.25" xml:space="preserve">22.0</text>
<text transform="translate(649.00,473.50) scale(1.03,1)" font-size="13.8" letter-spacing="1.15" fill="#000" stroke="#000" stroke-width="0.25" xml:space="preserve">3</text>
<rect x="20.6" y="616.1" width="59.4" height="15.6" fill="rgb(160,0,200)"/>
<rect x="79.7" y="616.1" width="60.6" height="15.6" fill="rgb(130,0,220)"/>
<rect x="140.0" y="616.1" width="59.7" height="15.6" fill="rgb(60,40,240)"/>
<rect x="199.4" y="616.1" width="60.9" height="15.6" fill="rgb(50,150,255)"/>
<rect x="260.0" y="616.1" width="59.3" height="15.6" fill="rgb(0,210,150)"/>
<rect x="319.0" y="616.1" width="61.2" height="15.6" fill="rgb(0,220,60)"/>
<rect x="379.9" y="616.1" width="59.3" height="15.6" fill="rgb(160,230,80)"/>
<rect x="438.9" y="616.1" width="60.8" height="15.6" fill="rgb(225,175,70)"/>
<rect x="499.4" y="616.1" width="59.8" height="15.6" fill="rgb(240,130,60)"/>
<rect x="558.9" y="616.1" width="60.4" height="15.6" fill="rgb(250,70,70)"/>
<rect x="619.0" y="616.1" width="62.2" height="15.6" fill="rgb(240,20,130)"/>
<text transform="translate(81.9,645.2) scale(1.1,1)" text-anchor="middle" font-size="12.8" letter-spacing="1.6" fill="#000" stroke="#000" stroke-width="0.15">16</text>
<text transform="translate(142.2,645.2) scale(1.1,1)" text-anchor="middle" font-size="12.8" letter-spacing="1.6" fill="#000" stroke="#000" stroke-width="0.15">17</text>
<text transform="translate(201.6,645.2) scale(1.1,1)" text-anchor="middle" font-size="12.8" letter-spacing="1.6" fill="#000" stroke="#000" stroke-width="0.15">18</text>
<text transform="translate(262.2,645.2) scale(1.1,1)" text-anchor="middle" font-size="12.8" letter-spacing="1.6" fill="#000" stroke="#000" stroke-width="0.15">19</text>
<text transform="translate(321.2,645.2) scale(1.1,1)" text-anchor="middle" font-size="12.8" letter-spacing="1.6" fill="#000" stroke="#000" stroke-width="0.15">20</text>
<text transform="translate(382.1,645.2) scale(1.1,1)" text-anchor="middle" font-size="12.8" letter-spacing="1.6" fill="#000" stroke="#000" stroke-width="0.15">21</text>
<text transform="translate(441.1,645.2) scale(1.1,1)" text-anchor="middle" font-size="12.8" letter-spacing="1.6" fill="#000" stroke="#000" stroke-width="0.15">22</text>
<text transform="translate(501.6,645.2) scale(1.1,1)" text-anchor="middle" font-size="12.8" letter-spacing="1.6" fill="#000" stroke="#000" stroke-width="0.15">23</text>
<text transform="translate(561.1,645.2) scale(1.1,1)" text-anchor="middle" font-size="12.8" letter-spacing="1.6" fill="#000" stroke="#000" stroke-width="0.15">24</text>
<text transform="translate(621.2,645.2) scale(1.1,1)" text-anchor="middle" font-size="12.8" letter-spacing="1.6" fill="#000" stroke="#000" stroke-width="0.15">25</text>
</svg></body></html>
